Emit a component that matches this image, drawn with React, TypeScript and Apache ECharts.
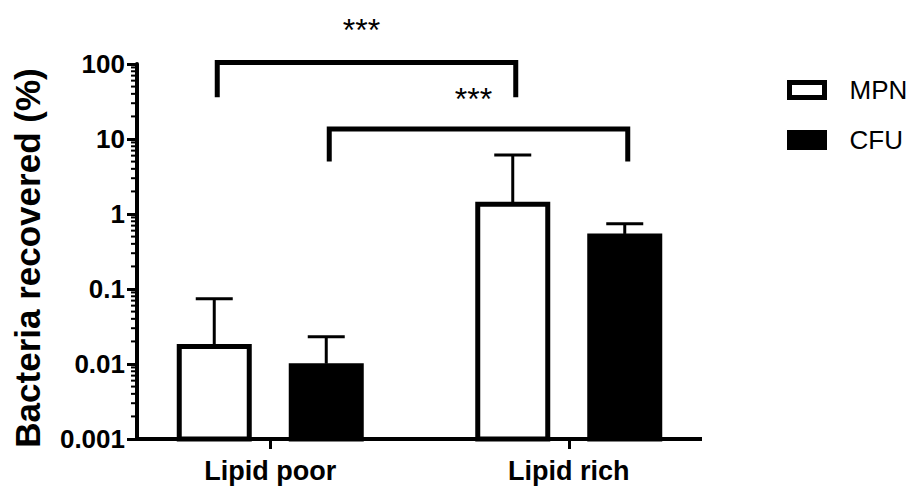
import React, { useEffect, useRef } from 'react';
import * as echarts from 'echarts';

// ---------- data ----------
const categories = ['Lipid poor', 'Lipid rich'];
const seriesNames = ['MPN', 'CFU'];
const mpnMean = [0.0171, 1.35];
const mpnUpper = [0.074, 6.1];
const cfuMean = [0.0095, 0.51];
const cfuUpper = [0.023, 0.74];
const yTicks = [0.001, 0.01, 0.1, 1, 10, 100];
const minorFactors = [2, 3, 4, 5, 6, 7, 8, 9];
// significance brackets: [fromCategory, fromSeries, toCategory, toSeries]
const bracketEnds = [
  [0, 0, 1, 0],
  [0, 1, 1, 1],
];
const bracketTop = [105, 13.6];
const bracketLeg = [36, 5];
const starValue = [357, 41.7];
const starLabels = ['***', '***'];

// ---------- layout / style ----------
const FONT = '"Liberation Sans", Arial, Helvetica, sans-serif';
const GRID_LEFT = 121;
const GRID_TOP = 64;
const GRID_W = 597;
const GRID_H = 375;
const Y_AXIS_X = 137;
const X_AXIS_END = 702;
const BAR_W = 70;
const SERIES_OFFSET = [-56, 56];
const LEG_NUDGE = 3;
const BAR_FILL = ['#fff', '#000'];

function barSeries(name: string, mean: number[], upper: number[], sIdx: number) {
  return {
    type: 'custom',
    name,
    clip: false,
    z: 2,
    encode: { x: 0, y: 1 },
    data: categories.map((_, i) => [i, mean[i], upper[i]]),
    itemStyle: { color: BAR_FILL[sIdx], borderColor: '#000', borderWidth: 5 },
    renderItem: (params: any, api: any) => {
      const topP = api.coord([api.value(0), api.value(1)]);
      const baseP = api.coord([api.value(0), yTicks[0]]);
      const errP = api.coord([api.value(0), api.value(2)]);
      const x = topP[0] + SERIES_OFFSET[sIdx];
      const lineStyle = { stroke: '#000', lineWidth: 3 };
      return {
        type: 'group',
        children: [
          {
            type: 'rect',
            shape: { x: x - BAR_W / 2, y: topP[1], width: BAR_W, height: baseP[1] - topP[1] },
            style: { fill: BAR_FILL[sIdx], stroke: '#000', lineWidth: 5 },
          },
          { type: 'line', shape: { x1: x, y1: topP[1] - 2, x2: x, y2: errP[1] }, style: lineStyle },
          { type: 'line', shape: { x1: x - 18.5, y1: errP[1], x2: x + 18.5, y2: errP[1] }, style: lineStyle },
        ],
      };
    },
  };
}

export default function App() {
  const ref = useRef<HTMLDivElement>(null);
  useEffect(() => {
    document.body.style.margin = '0';
    const chart = echarts.init(ref.current!, undefined, { renderer: 'svg' });
    const option: any = {
      animation: false,
      backgroundColor: '#fff',
      grid: { left: GRID_LEFT, top: GRID_TOP, width: GRID_W, height: GRID_H, containLabel: false },
      legend: {
        orient: 'vertical',
        left: 782,
        top: 72,
        icon: 'rect',
        itemWidth: 35,
        itemHeight: 15,
        itemGap: 24,
        data: [
          { name: seriesNames[0], itemStyle: { color: '#fff', borderColor: '#000', borderWidth: 5 } },
          { name: seriesNames[1], itemStyle: { color: '#000', borderColor: '#000', borderWidth: 5 } },
        ],
        textStyle: { fontSize: 26, fontFamily: FONT, color: '#000', padding: [0, 0, 0, 20] },
      },
      xAxis: {
        type: 'category',
        data: categories,
        axisLine: { show: false },
        axisTick: { show: true, alignWithLabel: true, length: 10, lineStyle: { color: '#000', width: 3 } },
        axisLabel: { fontSize: 27, fontWeight: 'bold', color: '#000', fontFamily: FONT, margin: 18 },
        splitLine: { show: false },
      },
      yAxis: {
        type: 'log',
        logBase: 10,
        min: yTicks[0],
        max: yTicks[yTicks.length - 1],
        offset: GRID_LEFT - Y_AXIS_X,
        axisLine: { show: true, lineStyle: { color: '#000', width: 4 } },
        axisTick: { show: true, length: 10, lineStyle: { color: '#000', width: 3 } },
        splitLine: { show: false },
        axisLabel: {
          fontSize: 26,
          fontWeight: 'bold',
          color: '#000',
          fontFamily: FONT,
          margin: 12,
          formatter: (v: number) => String(Number(v.toPrecision(1))),
        },
        name: 'Bacteria recovered (%)',
        nameLocation: 'middle',
        nameRotate: 90,
        nameGap: 92,
        nameTextStyle: { fontSize: 35, fontWeight: 'bold', color: '#000', fontFamily: FONT, padding: [0, 13, 0, 0] },
      },
      graphic: [
        {
          type: 'line',
          z: 100,
          shape: { x1: Y_AXIS_X - 2, y1: GRID_TOP + GRID_H, x2: X_AXIS_END, y2: GRID_TOP + GRID_H },
          style: { stroke: '#000', lineWidth: 4 },
        },
      ],
      series: [
        barSeries(seriesNames[0], mpnMean, mpnUpper, 0),
        barSeries(seriesNames[1], cfuMean, cfuUpper, 1),
        {
          type: 'custom',
          name: 'brackets',
          clip: false,
          encode: { x: 0, y: 4 },
          data: bracketEnds.map((e, i) => [...e, bracketTop[i], bracketLeg[i], starValue[i]]),
          renderItem: (params: any, api: any) => {
            const i = params.dataIndex;
            const [fc, fs, tc, ts] = bracketEnds[i];
            const topP = api.coord([fc, bracketTop[i]]);
            const legP = api.coord([fc, bracketLeg[i]]);
            const starP = api.coord([fc, starValue[i]]);
            const x1 = api.coord([fc, 1])[0] + SERIES_OFFSET[fs] + LEG_NUDGE;
            const x2 = api.coord([tc, 1])[0] + SERIES_OFFSET[ts] + LEG_NUDGE;
            return {
              type: 'group',
              children: [
                {
                  type: 'polyline',
                  shape: { points: [[x1, legP[1]], [x1, topP[1]], [x2, topP[1]], [x2, legP[1]]] },
                  style: { stroke: '#000', lineWidth: 5, fill: 'none', lineJoin: 'miter' },
                },
                {
                  type: 'text',
                  x: (x1 + x2) / 2 - 5,
                  y: starP[1] + 7,
                  style: {
                    text: starLabels[i],
                    fontSize: 32,
                    fontFamily: FONT,
                    fill: '#000',
                    align: 'center',
                    verticalAlign: 'middle',
                  },
                },
              ],
            };
          },
        },
        {
          type: 'custom',
          name: 'minor ticks',
          clip: false,
          z: 10,
          encode: { x: 0, y: 1 },
          data: yTicks.slice(0, -1).map((d) => [0, d]),
          renderItem: (params: any, api: any) => {
            const d = api.value(1);
            return {
              type: 'group',
              children: minorFactors.map((f) => {
                const p = api.coord([0, d * f]);
                return {
                  type: 'line',
                  shape: { x1: Y_AXIS_X - 6, y1: p[1], x2: Y_AXIS_X, y2: p[1] },
                  style: { stroke: '#000', lineWidth: 2 },
                };
              }),
            };
          },
        },
      ],
    };
    chart.setOption(option);
    return () => chart.dispose();
  }, []);
  return <div ref={ref} style={{ width: 914, height: 487 }} />;
}
